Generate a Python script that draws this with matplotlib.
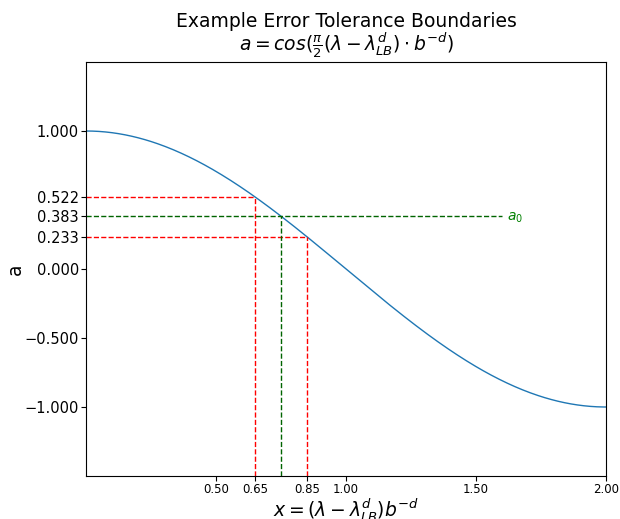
import numpy as np
import matplotlib
matplotlib.use("Agg")
import matplotlib.pyplot as plt

# data
x_lo, x_hi = 0.65, 0.85
x_a0 = 0.75
a_lo = 0.522
a_hi = 0.233
a0 = 0.383
ytick_vals = [-1.0, -0.5, 0.0, 0.233, 0.383, 0.522, 1.0]
xtick_vals = [0.50, 0.65, 0.85, 1.00, 1.50, 2.00]
a0_line_end = 1.6

x = np.linspace(0, 2, 400)
y = np.cos(np.pi / 2 * x)

fig = plt.figure(figsize=(6.2, 5.19), dpi=100)
ax = fig.add_axes([86/620, 1-476/519, 520/620, 414/519])
ax.plot(x, y, color='#1f77b4', lw=1)

ax.plot([0, x_lo], [a_lo, a_lo], 'r--', lw=1)
ax.plot([x_lo, x_lo], [-1.5, a_lo], 'r--', lw=1)
ax.plot([0, x_hi], [a_hi, a_hi], 'r--', lw=1)
ax.plot([x_hi, x_hi], [-1.5, a_hi], 'r--', lw=1)
ax.plot([0, a0_line_end], [a0, a0], '--', color='darkgreen', lw=1)
ax.plot([x_a0, x_a0], [-1.5, a0], '--', color='darkgreen', lw=1)
ax.text(a0_line_end + 0.02, a0 - 0.01, r'$a_0$', color='green', fontsize=10, va='center')

ax.set_xlim(0, 2)
ax.set_ylim(-1.5, 1.5)
ax.set_yticks(ytick_vals)
ax.set_yticklabels([f'{v:.3f}'.replace('-', '\u2212') for v in ytick_vals], fontsize=10.5)
ax.set_xticks(xtick_vals)
ax.set_xticklabels([f'{v:.2f}' for v in xtick_vals], fontsize=8.5)
ax.tick_params(axis='both', pad=1.5)
ax.set_xlabel(r'$x = (\lambda - \lambda_{LB}^d) b^{-d}$', fontsize=13.5, labelpad=0.5)
ax.set_ylabel('a', fontsize=13.5, labelpad=0)
ax.set_title('Example Error Tolerance Boundaries\n' + r'$a = cos(\frac{\pi}{2}(\lambda - \lambda_{LB}^d)\cdot b^{-d})$',
             fontsize=13.5, linespacing=0.965, pad=8.5)

fig.savefig('out.png', dpi=100)
